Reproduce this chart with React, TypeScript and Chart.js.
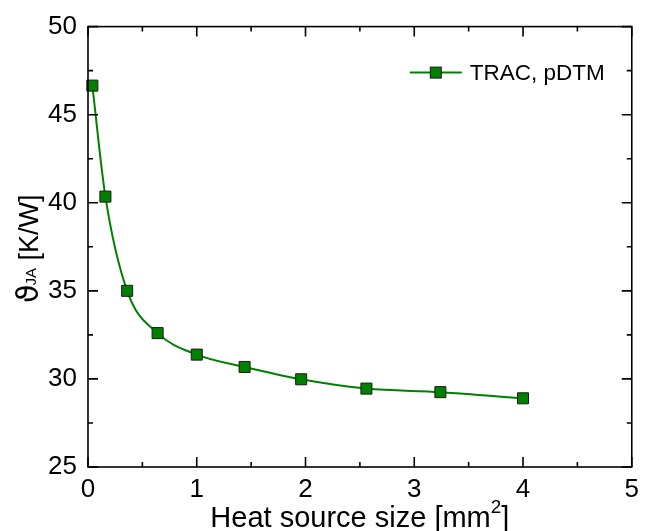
import React, { useEffect, useRef } from 'react';
import { Chart, registerables } from 'chart.js';

Chart.register(...registerables);

const heatSourceSize = [0.04, 0.16, 0.36, 0.64, 1, 1.44, 1.96, 2.56, 3.24, 4];
const thermalResistance = [46.65, 40.35, 35.0, 32.6, 31.38, 30.68, 29.98, 29.45, 29.25, 28.9];
const seriesLabel = 'TRAC, pDTM';
const xMajorTicks = [0, 1, 2, 3, 4, 5];
const xMinorTicks = [0.5, 1.5, 2.5, 3.5, 4.5];
const yMajorTicks = [25, 30, 35, 40, 45, 50];
const yMinorTicks = [27.5, 32.5, 37.5, 42.5, 47.5];
const xTitleMain = 'Heat source size [mm';
const xTitleSup = '2';
const xTitleEnd = ']';
const yTitleSymbol = 'ϑ';
const yTitleSub = 'JA';
const yTitleRest = ' [K/W]';

const FONT = '"Liberation Sans", Arial, sans-serif';
const GREEN = '#008000';

const decorPlugin = {
  id: 'decor',
  afterDraw(chart: any) {
    const ctx = chart.ctx;
    const { left, right, top, bottom } = chart.chartArea;
    const xs = chart.scales.x;
    const ys = chart.scales.y;
    ctx.save();
    ctx.strokeStyle = '#000';
    ctx.lineWidth = 1.6;
    ctx.strokeRect(left, top, right - left, bottom - top);
    ctx.beginPath();
    const major = 10, minor = 5;
    xMajorTicks.forEach(v => {
      const px = xs.getPixelForValue(v);
      ctx.moveTo(px, bottom); ctx.lineTo(px, bottom - major);
      ctx.moveTo(px, top); ctx.lineTo(px, top + major);
    });
    xMinorTicks.forEach(v => {
      const px = xs.getPixelForValue(v);
      ctx.moveTo(px, bottom); ctx.lineTo(px, bottom - minor);
      ctx.moveTo(px, top); ctx.lineTo(px, top + minor);
    });
    yMajorTicks.forEach(v => {
      const py = ys.getPixelForValue(v);
      ctx.moveTo(left, py); ctx.lineTo(left + major, py);
      ctx.moveTo(right, py); ctx.lineTo(right - major, py);
    });
    yMinorTicks.forEach(v => {
      const py = ys.getPixelForValue(v);
      ctx.moveTo(left, py); ctx.lineTo(left + minor, py);
      ctx.moveTo(right, py); ctx.lineTo(right - minor, py);
    });
    ctx.stroke();

    // legend
    const ds = chart.data.datasets[0];
    const ly = top + 46;
    const lx0 = right - 222;
    ctx.strokeStyle = ds.borderColor;
    ctx.lineWidth = ds.borderWidth;
    ctx.beginPath();
    ctx.moveTo(lx0, ly);
    ctx.lineTo(lx0 + 52, ly);
    ctx.stroke();
    const side = 11;
    ctx.fillStyle = ds.pointBackgroundColor;
    ctx.strokeStyle = ds.pointBorderColor;
    ctx.lineWidth = 1;
    ctx.fillRect(lx0 + 26 - side / 2, ly - side / 2, side, side);
    ctx.strokeRect(lx0 + 26 - side / 2, ly - side / 2, side, side);
    ctx.fillStyle = '#000';
    ctx.font = `22.5px ${FONT}`;
    ctx.textBaseline = 'middle';
    ctx.textAlign = 'left';
    ctx.fillText(ds.label, lx0 + 60, ly + 1);

    // x title
    ctx.textBaseline = 'alphabetic';
    const cx = (left + right) / 2;
    ctx.font = `29px ${FONT}`;
    const w1 = ctx.measureText(xTitleMain).width;
    const w3 = ctx.measureText(xTitleEnd).width;
    ctx.font = `19px ${FONT}`;
    const w2 = ctx.measureText(xTitleSup).width;
    const total = w1 + w2 + w3;
    let tx = cx - total / 2;
    const tyBase = bottom + 60;
    ctx.font = `29px ${FONT}`;
    ctx.fillText(xTitleMain, tx, tyBase);
    tx += w1;
    ctx.font = `19px ${FONT}`;
    ctx.fillText(xTitleSup, tx, tyBase - 14);
    tx += w2;
    ctx.font = `29px ${FONT}`;
    ctx.fillText(xTitleEnd, tx, tyBase);

    // y title
    ctx.translate(left - 50, 303);
    ctx.rotate(-Math.PI / 2);
    let yx = 0;
    ctx.font = `30px "DejaVu Sans", ${FONT}`;
    ctx.fillText(yTitleSymbol, yx, 0);
    yx += ctx.measureText(yTitleSymbol).width - 1;
    ctx.font = `15px ${FONT}`;
    ctx.fillText(yTitleSub, yx, -2);
    yx += ctx.measureText(yTitleSub).width;
    ctx.font = `27px ${FONT}`;
    ctx.fillText(yTitleRest, yx, 0);
    ctx.restore();
  },
};

export default function App() {
  const ref = useRef<HTMLCanvasElement>(null);
  useEffect(() => {
    if (!ref.current) return;
    const chart = new Chart(ref.current, {
      type: 'line',
      data: {
        datasets: [
          {
            label: seriesLabel,
            data: heatSourceSize.map((x, i) => ({ x, y: thermalResistance[i] })),
            borderColor: GREEN,
            borderWidth: 2,
            backgroundColor: GREEN,
            pointBackgroundColor: GREEN,
            pointBorderColor: '#1a1a1a',
            pointBorderWidth: 1,
            pointStyle: 'rect',
            pointRadius: 7.8,
            cubicInterpolationMode: 'monotone',
            clip: false,
          } as any,
        ],
      },
      options: {
        animation: false,
        responsive: true,
        maintainAspectRatio: false,
        layout: { padding: { top: 24, right: 7, left: 0, bottom: 0 } },
        plugins: { legend: { display: false }, tooltip: { enabled: false } },
        scales: {
          x: {
            type: 'linear',
            min: 0,
            max: 5,
            grid: { display: false, drawTicks: false },
            border: { display: false },
            ticks: { stepSize: 1, color: '#000', font: { size: 26, family: FONT }, padding: 7, maxRotation: 0 },
            afterFit: (s: any) => { s.height = 64; },
          },
          y: {
            type: 'linear',
            min: 25,
            max: 50,
            grid: { display: false, drawTicks: false },
            border: { display: false },
            ticks: { stepSize: 5, color: '#000', font: { size: 26, family: FONT }, padding: 11 },
            afterFit: (s: any) => { s.width = 88; },
          },
        },
      },
      plugins: [decorPlugin],
    });
    return () => chart.destroy();
  }, []);
  return (
    <div style={{ position: 'absolute', left: 0, top: 0, width: 646, height: 531 }}>
      <canvas ref={ref} />
    </div>
  );
}
